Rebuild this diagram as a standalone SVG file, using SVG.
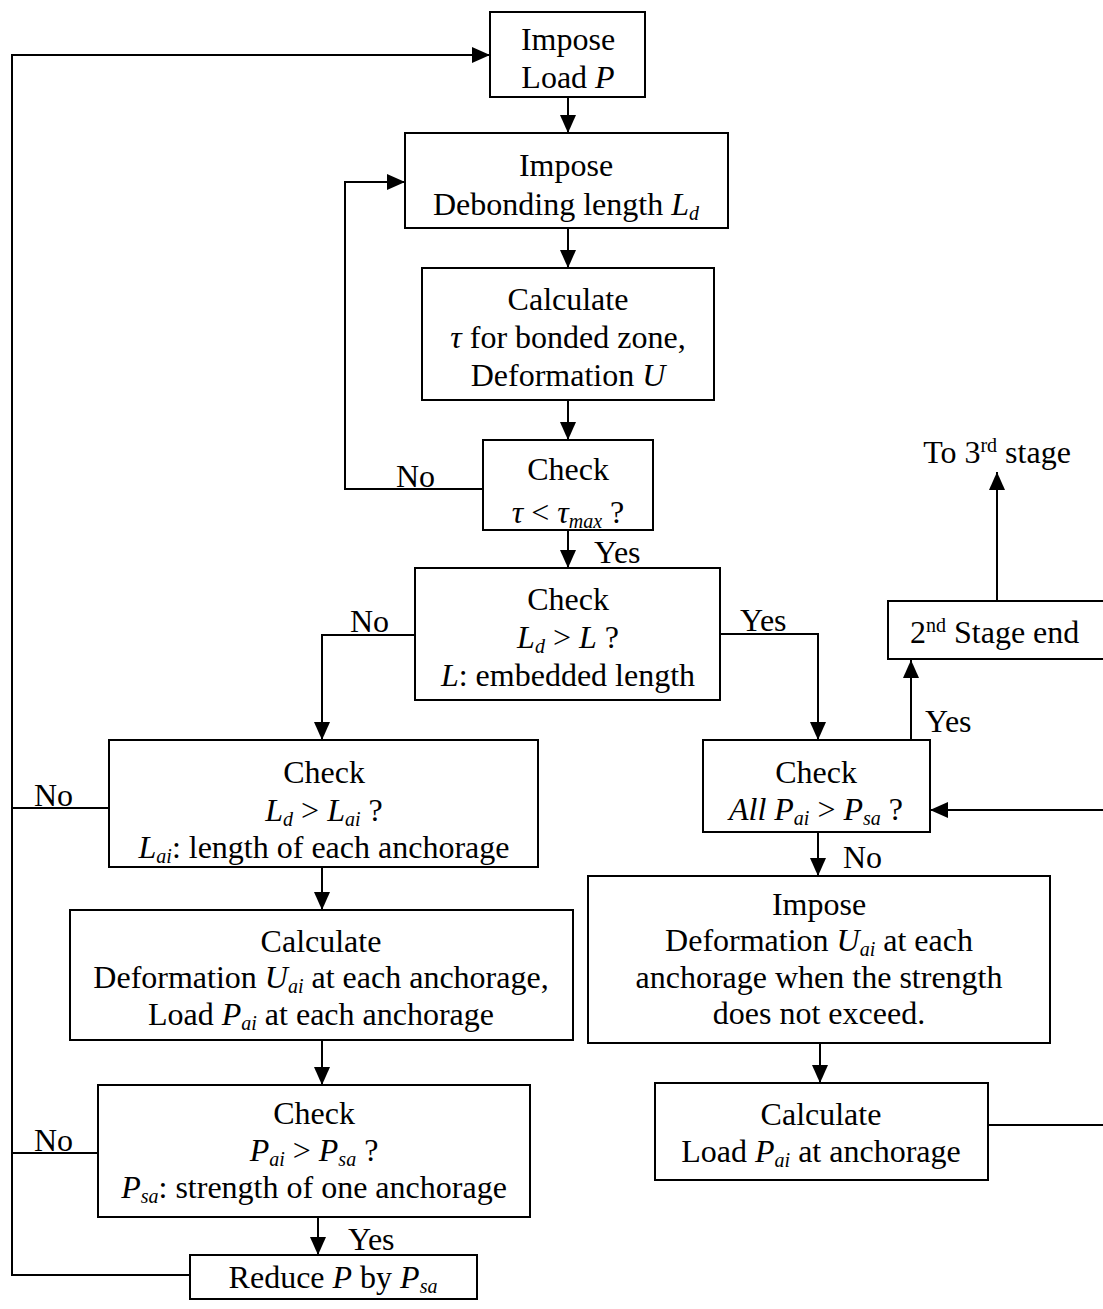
<svg xmlns="http://www.w3.org/2000/svg" width="1103" height="1309" viewBox="0 0 1103 1309">
  <style>
    .box { fill: #fff; stroke: #000; stroke-width: 2; }
    .ln { fill: none; stroke: #000; stroke-width: 2; }
    .arr { marker-end: url(#ah); }
    text { font-family: "Liberation Serif", "Times New Roman", serif; font-size: 32px; fill: #000; text-anchor: middle; }
    .lbl { text-anchor: start; }
    .i { font-style: italic; }
    .sub { font-style: italic; font-size: 20px; }
    .sup { font-size: 20px; }
  </style>
  <defs>
    <marker id="ah" viewBox="0 0 18 16" refX="18" refY="8" markerWidth="18" markerHeight="16" markerUnits="userSpaceOnUse" orient="auto">
      <path d="M0,0 L18,8 L0,16 z" fill="#000"/>
    </marker>
    <clipPath id="clipTau"><rect x="483" y="440" width="170" height="89"/></clipPath>
  </defs>
  <rect width="1103" height="1309" fill="#fff"/>

  <!-- connectors -->
  <g id="connectors">
    <line class="ln arr" x1="568" y1="97" x2="568" y2="133"/>
    <line class="ln arr" x1="568" y1="228" x2="568" y2="268"/>
    <line class="ln arr" x1="568" y1="400" x2="568" y2="440"/>
    <polyline class="ln arr" points="483,489 345,489 345,182 405,182"/>
    <line class="ln arr" x1="568" y1="530" x2="568" y2="568"/>
    <polyline class="ln arr" points="415,635 322,635 322,740"/>
    <polyline class="ln arr" points="720,634 818,634 818,740"/>
    <line class="ln arr" x1="322" y1="867" x2="322" y2="910"/>
    <line class="ln arr" x1="322" y1="1040" x2="322" y2="1085"/>
    <line class="ln arr" x1="318" y1="1217" x2="318" y2="1255"/>
    <line class="ln" x1="110" y1="808" x2="12" y2="808"/>
    <line class="ln" x1="98" y1="1153" x2="12" y2="1153"/>
    <polyline class="ln arr" points="190,1275 12,1275 12,55 490,55"/>
    <line class="ln arr" x1="911" y1="740" x2="911" y2="660"/>
    <line class="ln arr" x1="997" y1="600" x2="997" y2="472"/>
    <line class="ln arr" x1="818" y1="832" x2="818" y2="876"/>
    <line class="ln arr" x1="820" y1="1043" x2="820" y2="1083"/>
    <polyline class="ln arr" points="988,1125 1120,1125 1120,810 930,810"/>
    <text class="lbl" x="396" y="487">No</text>
    <text class="lbl" x="594" y="563">Yes</text>
    <text class="lbl" x="350" y="632">No</text>
    <text class="lbl" x="740" y="631">Yes</text>
    <text class="lbl" x="34" y="806">No</text>
    <text class="lbl" x="34" y="1151">No</text>
    <text class="lbl" x="348" y="1250">Yes</text>
    <text class="lbl" x="925" y="732">Yes</text>
    <text class="lbl" x="843" y="868">No</text>
    <text x="997" y="463">To 3<tspan class="sup" dy="-11">rd</tspan><tspan dy="11"> stage</tspan></text>
  </g>

  <g id="impose-load">
    <rect class="box" x="490" y="12" width="155" height="85"/>
    <text x="568" y="50">Impose</text>
    <text x="568" y="88">Load <tspan class="i">P</tspan></text>
  </g>

  <g id="impose-debonding">
    <rect class="box" x="405" y="133" width="323" height="95"/>
    <text x="566" y="176">Impose</text>
    <text x="566" y="215">Debonding length <tspan class="i">L</tspan><tspan class="sub" dy="5">d</tspan></text>
  </g>

  <g id="calc-tau">
    <rect class="box" x="422" y="268" width="292" height="132"/>
    <text x="568" y="310">Calculate</text>
    <text x="568" y="348"><tspan class="i">τ</tspan> for bonded zone,</text>
    <text x="568" y="386">Deformation <tspan class="i">U</tspan></text>
  </g>

  <g id="check-tau">
    <rect class="box" x="483" y="440" width="170" height="90"/>
    <text x="568" y="480">Check</text>
    <text x="568" y="523" clip-path="url(#clipTau)"><tspan class="i">τ</tspan> &lt; <tspan class="i">τ</tspan><tspan class="sub" dy="5">max</tspan><tspan dy="-5"> ?</tspan></text>
  </g>

  <g id="check-ld-l">
    <rect class="box" x="415" y="568" width="305" height="132"/>
    <text x="568" y="610">Check</text>
    <text x="568" y="648"><tspan class="i">L</tspan><tspan class="sub" dy="5">d</tspan><tspan dy="-5"> &gt; </tspan><tspan class="i">L</tspan> ?</text>
    <text x="568" y="686"><tspan class="i">L</tspan>: embedded length</text>
  </g>

  <g id="check-ld-lai">
    <rect class="box" x="109" y="740" width="429" height="127"/>
    <text x="324" y="783">Check</text>
    <text x="324" y="821"><tspan class="i">L</tspan><tspan class="sub" dy="5">d</tspan><tspan dy="-5"> &gt; </tspan><tspan class="i">L</tspan><tspan class="sub" dy="5">ai</tspan><tspan dy="-5"> ?</tspan></text>
    <text x="324" y="858"><tspan class="i">L</tspan><tspan class="sub" dy="5">ai</tspan><tspan dy="-5">: length of each anchorage</tspan></text>
  </g>

  <g id="calc-deformation">
    <rect class="box" x="70" y="910" width="503" height="130"/>
    <text x="321" y="952">Calculate</text>
    <text x="321" y="988">Deformation <tspan class="i">U</tspan><tspan class="sub" dy="5">ai</tspan><tspan dy="-5"> at each anchorage,</tspan></text>
    <text x="321" y="1025">Load <tspan class="i">P</tspan><tspan class="sub" dy="5">ai</tspan><tspan dy="-5"> at each anchorage</tspan></text>
  </g>

  <g id="check-pai-psa">
    <rect class="box" x="98" y="1085" width="432" height="132"/>
    <text x="314" y="1124">Check</text>
    <text x="314" y="1161"><tspan class="i">P</tspan><tspan class="sub" dy="5">ai</tspan><tspan dy="-5"> &gt; </tspan><tspan class="i">P</tspan><tspan class="sub" dy="5">sa</tspan><tspan dy="-5"> ?</tspan></text>
    <text x="314" y="1198"><tspan class="i">P</tspan><tspan class="sub" dy="5">sa</tspan><tspan dy="-5">: strength of one anchorage</tspan></text>
  </g>

  <g id="reduce-p">
    <rect class="box" x="190" y="1255" width="287" height="44"/>
    <text x="333" y="1288">Reduce <tspan class="i">P</tspan> by <tspan class="i">P</tspan><tspan class="sub" dy="5">sa</tspan></text>
  </g>

  <g id="check-all">
    <rect class="box" x="703" y="740" width="227" height="92"/>
    <text x="816" y="783">Check</text>
    <text x="816" y="820"><tspan class="i">All P</tspan><tspan class="sub" dy="5">ai</tspan><tspan dy="-5"> &gt; </tspan><tspan class="i">P</tspan><tspan class="sub" dy="5">sa</tspan><tspan dy="-5"> ?</tspan></text>
  </g>

  <g id="stage-end">
    <rect class="box" x="888" y="601" width="240" height="58"/>
    <text class="lbl" x="910" y="643">2<tspan class="sup" dy="-11">nd</tspan><tspan dy="11"> Stage end</tspan></text>
  </g>

  <g id="impose-uai">
    <rect class="box" x="588" y="876" width="462" height="167"/>
    <text x="819" y="915">Impose</text>
    <text x="819" y="951">Deformation <tspan class="i">U</tspan><tspan class="sub" dy="5">ai</tspan><tspan dy="-5"> at each</tspan></text>
    <text x="819" y="988">anchorage when the strength</text>
    <text x="819" y="1024">does not exceed.</text>
  </g>

  <g id="calc-load">
    <rect class="box" x="655" y="1083" width="333" height="97"/>
    <text x="821" y="1125">Calculate</text>
    <text x="821" y="1162">Load <tspan class="i">P</tspan><tspan class="sub" dy="5">ai</tspan><tspan dy="-5"> at anchorage</tspan></text>
  </g>
</svg>
